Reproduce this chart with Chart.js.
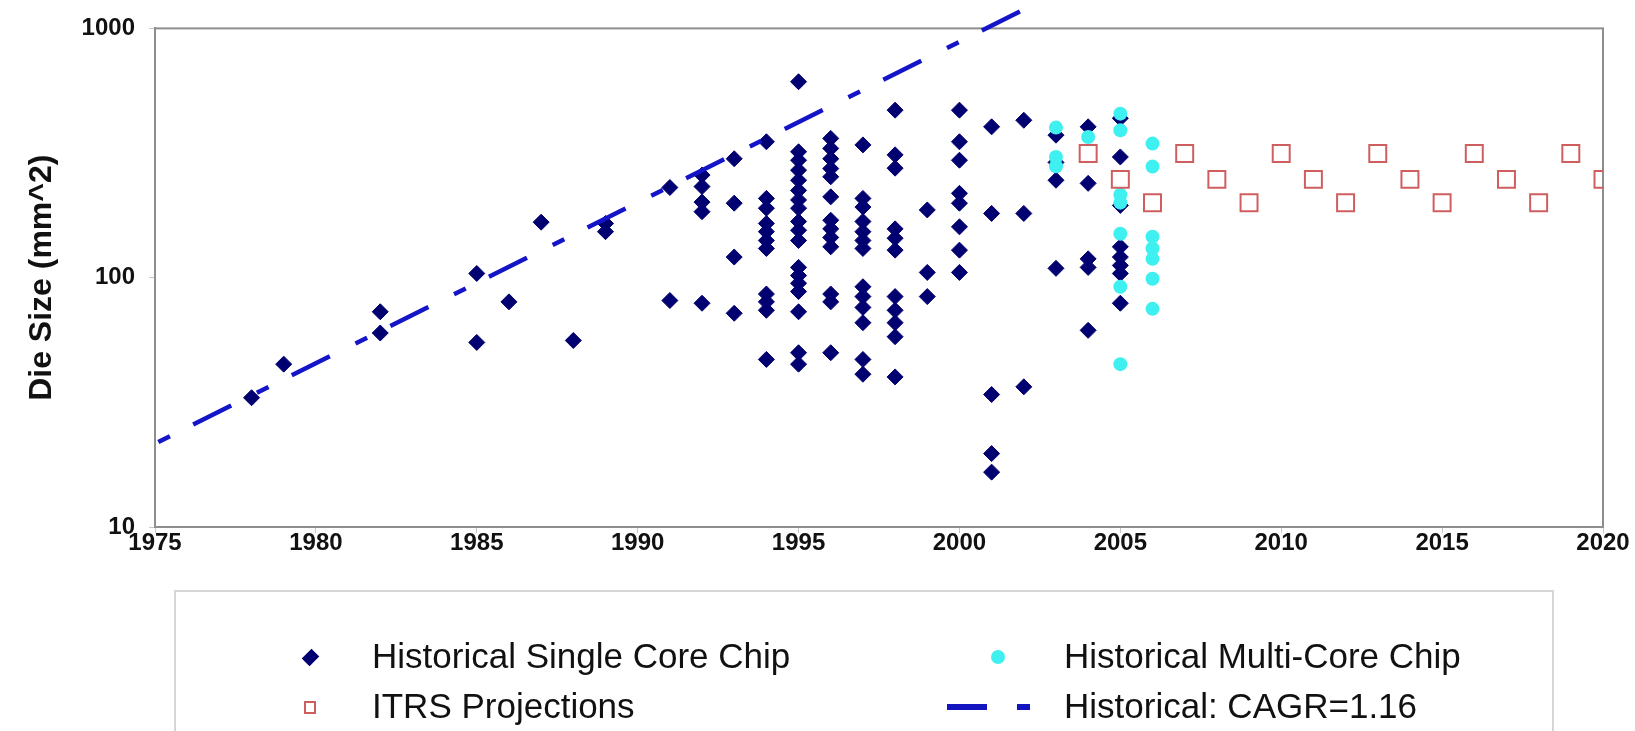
<!DOCTYPE html>
<html>
<head>
<meta charset="utf-8">
<script src="https://cdn.jsdelivr.net/npm/chart.js@4.4.1/dist/chart.umd.min.js"></script>
<style>
  html, body { margin: 0; padding: 0; background: #fff; }
  #wrap { position: relative; width: 1635px; height: 731px; overflow: hidden; font-family: "Liberation Sans", Arial, sans-serif; }
  #die-chart { position: absolute; left: 0; top: 0; }
  .legend { position: absolute; left: 174px; top: 590px; width: 1380px; height: 170px; border: 2px solid #d6d6d6; box-sizing: border-box; }
  .item { position: absolute; font-size: 35px; line-height: 40px; color: #111; white-space: nowrap; }
  .mk { position: absolute; box-sizing: border-box; }
</style>
</head>
<body>
<div id="wrap">
  <canvas id="die-chart" width="1635" height="731"></canvas>
  <div class="legend">
    <div class="mk" style="left:129px;top:60px;width:11px;height:11px;background:#000070;transform:rotate(45deg) scaleY(1.25);"></div>
    <div class="item" style="left:196px;top:44px;">Historical Single Core Chip</div>
    <div class="mk" style="left:128px;top:109px;width:12px;height:13px;border:2px solid #cf5f5f;"></div>
    <div class="item" style="left:196px;top:94px;">ITRS Projections</div>
    <div class="mk" style="left:815px;top:58px;width:14px;height:14px;border-radius:50%;background:#3ff0f0;"></div>
    <div class="item" style="left:888px;top:44px;">Historical Multi-Core Chip</div>
    <div class="mk" style="left:771px;top:112px;width:40px;height:6px;background:#1414c0;"></div>
    <div class="mk" style="left:841px;top:112px;width:13px;height:6px;background:#1414c0;"></div>
    <div class="item" style="left:888px;top:94px;">Historical: CAGR=1.16</div>
  </div>
</div>
<script>
// die sizes (mm^2), grouped by year
var singleYears = [1978, 1979, 1982, 1985, 1986, 1987, 1988, 1989, 1991, 1992, 1993, 1994, 1995,
                   1996, 1997, 1998, 1999, 2000, 2001, 2002, 2003, 2004, 2005];
var singleSizes = [
    [33], [45], [73, 60], [104, 55], [80], [167], [56], [165, 153], [230, 81],
    [258, 232, 201, 184, 79],
    [300, 199, 121, 72],
    [351, 208, 190, 165, 153, 141, 131, 86, 80, 74, 47],
    [611, 320, 296, 270, 246, 224, 205, 190, 168, 155, 141, 110, 102, 95, 88, 73, 50, 45],
    [362, 330, 300, 274, 254, 211, 170, 157, 145, 133, 86, 80, 50],
    [341, 208, 192, 168, 153, 141, 131, 92, 84, 76, 66, 47, 41],
    [470, 311, 275, 157, 144, 129, 84, 74, 66, 58, 40],
    [187, 105, 84],
    [470, 351, 296, 218, 199, 160, 129, 105],
    [403, 181, 34, 19.7, 16.6],
    [428, 181, 36.5],
    [373, 290, 246, 109],
    [403, 239, 119, 110, 61.5],
    [436, 305, 195, 133, 121, 112, 104, 79]
];

var multiYears = [2003, 2004, 2005, 2006];
var multiSizes = [
    [400, 305, 280],
    [367],
    [455, 390, 215, 200, 150, 92, 45],
    [345, 279, 146, 131, 119, 99, 75]
];

var itrsYears = [2004, 2005, 2006, 2007, 2008, 2009, 2010, 2011, 2012, 2013, 2014, 2015, 2016, 2017, 2018, 2019, 2020];
var itrsSizes = [315, 248, 200, 315, 248, 200, 315, 248, 200, 315, 248, 200, 315, 248, 200, 315, 248];

// end points of the CAGR=1.16 trend as drawn
var trendYears = [1975, 2002.2];
var trendSizes = [21.6, 1225];

var xTicks = [1975, 1980, 1985, 1990, 1995, 2000, 2005, 2010, 2015, 2020];
var yTicks = [10, 100, 1000];

function groupedPoints(years, sizes) {
    var pts = [];
    for (let i = 0; i < years.length; i++) {
        sizes[i].forEach(function(s) { pts.push({ x: years[i], y: s }); });
    }
    return pts;
}

function pairPoints(xs, ys) {
    return xs.map((x, i) => ({ x: x, y: ys[i] }));
}

// grey frame round the plot area
const frame = {
    id: 'frame',
    beforeDatasetsDraw(chart) {
        const a = chart.chartArea;
        const c = chart.ctx;
        c.save();
        c.strokeStyle = '#8e8e8e';
        c.lineWidth = 2;
        c.strokeRect(a.left, a.top, a.right - a.left, a.bottom - a.top);
        c.restore();
    }
};

Chart.defaults.font.family = '"Liberation Sans", Arial, sans-serif';
Chart.defaults.color = '#111';

const ctx = document.getElementById('die-chart');
new Chart(ctx, {
    type: 'scatter',
    data: {
        datasets: [
            {
                label: 'Historical Single Core Chip',
                data: groupedPoints(singleYears, singleSizes),
                pointStyle: 'rectRot',
                pointRadius: 8,
                backgroundColor: '#000070',
                borderColor: '#000070',
                borderWidth: 1,
                order: 4
            },
            {
                label: 'Historical Multi-Core Chip',
                data: groupedPoints(multiYears, multiSizes),
                pointStyle: 'circle',
                pointRadius: 7,
                backgroundColor: '#3ff0f0',
                borderWidth: 0,
                order: 3
            },
            {
                label: 'ITRS Projections',
                data: pairPoints(itrsYears, itrsSizes),
                pointStyle: 'rect',
                pointRadius: 12,
                backgroundColor: 'rgba(0,0,0,0)',
                borderColor: '#cf5f5f',
                borderWidth: 2,
                order: 2
            },
            {
                label: 'Historical: CAGR=1.16',
                data: pairPoints(trendYears, trendSizes),
                showLine: true,
                pointRadius: 0,
                borderColor: '#1414c8',
                borderWidth: 4.5,
                borderDash: [13, 26, 42.5, 28.7],
                borderDashOffset: 106.5,
                clip: false,
                order: 1
            }
        ]
    },
    options: {
        responsive: false,
        animation: false,
        events: [],
        layout: { padding: { left: 0, top: 28, right: 32, bottom: 164 } },
        plugins: {
            legend: { display: false },
            tooltip: { enabled: false }
        },
        scales: {
            x: {
                type: 'linear',
                min: 1975,
                max: 2020,
                afterBuildTicks: function(s) { s.ticks = xTicks.map(v => ({ value: v })); },
                afterFit: function(s) { s.height = 40; },
                ticks: {
                    callback: v => String(v),
                    font: { size: 24, weight: 'bold' },
                    padding: -4,
                    maxRotation: 0
                },
                grid: { drawOnChartArea: false, tickLength: 6, color: '#c8c8c8' },
                border: { color: '#8e8e8e', width: 2 }
            },
            y: {
                type: 'logarithmic',
                min: 10,
                max: 1000,
                afterBuildTicks: function(s) { s.ticks = yTicks.map(v => ({ value: v })); },
                afterFit: function(s) { s.width = 155; },
                ticks: {
                    callback: v => String(v),
                    font: { size: 24, weight: 'bold' },
                    padding: 14
                },
                title: {
                    display: true,
                    text: 'Die Size (mm^2)',
                    font: { size: 32, weight: 'bold' },
                    padding: { top: 23, bottom: 0 }
                },
                grid: { drawOnChartArea: false, tickLength: 6, color: '#c8c8c8' },
                border: { color: '#8e8e8e', width: 2 }
            }
        }
    },
    plugins: [frame]
});
</script>
</body>
</html>
